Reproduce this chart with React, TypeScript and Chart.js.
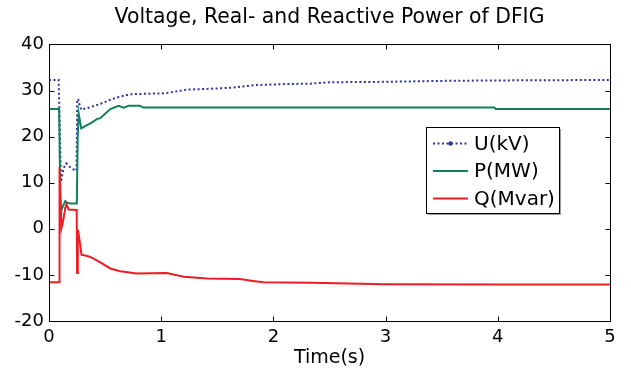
import React, { useEffect, useRef } from "react";
import { Chart, registerables } from "chart.js";

Chart.register(...registerables);

const FONT = "'DejaVu Sans', 'Liberation Sans', Arial, sans-serif";

const chartTitle = "Voltage, Real- and Reactive Power of DFIG";
const xTitle = "Time(s)";
const seriesLabels = ["U(kV)", "P(MW)", "Q(Mvar)"];
const xTicks = [0, 1, 2, 3, 4, 5];
const yTicks = [-20, -10, 0, 10, 20, 30, 40];

const timeU = [0, 0.086, 0.1, 0.107, 0.13, 0.154, 0.19, 0.21, 0.245, 0.252, 0.26, 0.275, 0.29, 0.31, 0.37, 0.456, 0.546, 0.62, 0.724, 0.85, 1.035, 1.23, 1.44, 1.61, 1.73, 1.85, 2.1, 2.33, 2.5, 3.0, 3.5, 4.0, 5.0];
const voltageU = [32.3, 32.3, 18.0, 10.2, 13.2, 14.2, 13.3, 13.0, 12.6, 28.0, 28.2, 26.6, 25.8, 26.0, 26.4, 27.1, 28.0, 28.6, 29.2, 29.3, 29.4, 30.2, 30.4, 30.6, 30.9, 31.2, 31.4, 31.5, 31.8, 31.9, 32.1, 32.2, 32.3];

const timeP = [0, 0.09, 0.1, 0.107, 0.125, 0.145, 0.165, 0.2, 0.248, 0.256, 0.264, 0.287, 0.338, 0.37, 0.427, 0.457, 0.546, 0.62, 0.665, 0.71, 0.81, 0.84, 3.97, 3.98, 5.0];
const powerP = [26.0, 26.0, 8.0, 3.7, 5.0, 6.0, 5.6, 5.5, 5.5, 20.0, 25.1, 21.8, 22.5, 22.9, 23.8, 24.0, 26.0, 26.7, 26.3, 26.7, 26.7, 26.3, 26.3, 26.0, 26.0];

const timeQ = [0, 0.091, 0.094, 0.1, 0.112, 0.125, 0.145, 0.155, 0.175, 0.247, 0.25, 0.257, 0.27, 0.29, 0.34, 0.368, 0.457, 0.546, 0.635, 0.78, 1.05, 1.2, 1.41, 1.7, 1.82, 1.91, 2.33, 3.0, 4.0, 5.0];
const powerQ = [-11.6, -11.6, 13.3, 7.0, 0.3, 1.6, 4.5, 5.3, 4.2, 4.1, -9.6, -0.2, -2.1, -5.6, -5.9, -6.1, -7.3, -8.6, -9.2, -9.7, -9.6, -10.4, -10.8, -10.9, -11.3, -11.6, -11.7, -12.0, -12.1, -12.1];

const colorU = "#2f33a0";
const colorP = "#12805a";
const colorQ = "#ee1c24";

function toPoints(ts: number[], vs: number[]) {
  return ts.map((t, i) => ({ x: t, y: vs[i] }));
}

const boxPlugin = {
  id: "matlabBox",
  afterDatasetsDraw(chart: any) {
    const { ctx, chartArea, scales } = chart;
    const { left, top, right, bottom } = chartArea;
    const x = scales.x;
    const y = scales.y;
    const L = Math.round(left) + 0.5;
    const R = Math.round(right) + 0.5;
    const T = Math.round(top) + 0.5;
    const B = Math.round(bottom) + 0.5;
    ctx.save();
    ctx.strokeStyle = "#000";
    ctx.lineWidth = 1;
    ctx.strokeRect(L, T, R - L, B - T);
    const len = 5;
    ctx.beginPath();
    xTicks.forEach((v) => {
      const px = Math.round(x.getPixelForValue(v)) + 0.5;
      ctx.moveTo(px, B);
      ctx.lineTo(px, B - len);
      ctx.moveTo(px, T);
      ctx.lineTo(px, T + len);
    });
    yTicks.forEach((v) => {
      const py = Math.round(y.getPixelForValue(v)) + 0.5;
      ctx.moveTo(L, py);
      ctx.lineTo(L + len, py);
      ctx.moveTo(R, py);
      ctx.lineTo(R - len, py);
    });
    ctx.stroke();
    ctx.restore();
  },
  afterDraw(chart: any) {
    const { ctx } = chart;
    const bx = 426, by = 127, bw = 133, bh = 86;
    ctx.save();
    ctx.fillStyle = "#9a9a9a";
    ctx.fillRect(bx + 2, by + 2, bw, bh);
    ctx.fillStyle = "#fff";
    ctx.fillRect(bx, by, bw, bh);
    ctx.strokeStyle = "#000";
    ctx.lineWidth = 1;
    ctx.strokeRect(bx + 0.5, by + 0.5, bw, bh);
    const rows = [143.5, 171, 198.5];
    ctx.font = `20px ${FONT}`;
    ctx.textBaseline = "middle";
    ctx.textAlign = "left";
    chart.data.datasets.forEach((ds: any, i: number) => {
      const yy = rows[i];
      ctx.save();
      ctx.strokeStyle = ds.borderColor;
      ctx.lineWidth = ds.borderWidth;
      ctx.setLineDash(ds.borderDash || []);
      ctx.beginPath();
      ctx.moveTo(433, yy);
      ctx.lineTo(468, yy);
      ctx.stroke();
      if (ds.borderDash && ds.borderDash.length) {
        ctx.setLineDash([]);
        ctx.fillStyle = ds.borderColor;
        ctx.beginPath();
        ctx.arc(450.5, yy, 2.2, 0, Math.PI * 2);
        ctx.fill();
      }
      ctx.restore();
      ctx.fillStyle = "#000";
      ctx.fillText(ds.label, 474, yy + 1);
    });
    ctx.restore();
  },
};

export default function App() {
  const ref = useRef<HTMLCanvasElement | null>(null);
  useEffect(() => {
    if (!ref.current) return;
    const chart = new Chart(ref.current, {
      type: "line",
      data: {
        datasets: [
          {
            label: seriesLabels[0],
            data: toPoints(timeU, voltageU),
            borderColor: colorU,
            borderWidth: 2,
            borderDash: [2, 2.5],
            pointRadius: 0,
            tension: 0,
            fill: false,
            order: 2,
          },
          {
            label: seriesLabels[1],
            data: toPoints(timeP, powerP),
            borderColor: colorP,
            borderWidth: 2,
            pointRadius: 0,
            tension: 0,
            fill: false,
            order: 1,
          },
          {
            label: seriesLabels[2],
            data: toPoints(timeQ, powerQ),
            borderColor: colorQ,
            borderWidth: 2,
            pointRadius: 0,
            tension: 0,
            fill: false,
            order: 0,
          },
        ],
      },
      options: {
        responsive: false,
        animation: false,
        devicePixelRatio: 1,
        layout: { padding: { left: 0, right: 21, top: 0, bottom: 0 } },
        plugins: {
          legend: { display: false },
          tooltip: { enabled: false },
          title: {
            display: true,
            fullSize: false,
            text: chartTitle,
            color: "#000",
            font: { family: FONT, size: 20.4, weight: "normal" },
            padding: { top: 5, bottom: 15 },
          },
        },
        scales: {
          x: {
            type: "linear",
            min: 0,
            max: 5,
            afterFit: (axis: any) => {
              axis.height = 49;
            },
            afterBuildTicks: (axis: any) => {
              axis.ticks = xTicks.map((v) => ({ value: v }));
            },
            ticks: {
              color: "#000",
              font: { family: FONT, size: 18 },
              padding: 6,
              maxRotation: 0,
              autoSkip: false,
            },
            grid: { display: false, drawTicks: false },
            border: { display: false },
            title: {
              display: true,
              text: xTitle,
              color: "#000",
              font: { family: FONT, size: 19 },
              padding: { top: 0, bottom: 1 },
            },
          },
          y: {
            type: "linear",
            min: -20,
            max: 40,
            afterFit: (axis: any) => {
              axis.width = 49;
            },
            afterBuildTicks: (axis: any) => {
              axis.ticks = yTicks.map((v) => ({ value: v }));
            },
            ticks: {
              color: "#000",
              font: { family: FONT, size: 18 },
              padding: 5,
              autoSkip: false,
            },
            grid: { display: false, drawTicks: false },
            border: { display: false },
          },
        },
      },
      plugins: [boxPlugin],
    } as any);
    return () => chart.destroy();
  }, []);
  return (
    <div style={{ position: "fixed", left: 0, top: 0, width: 631, height: 370, background: "#fff" }}>
      <canvas ref={ref} width={631} height={370} style={{ display: "block" }} />
    </div>
  );
}
